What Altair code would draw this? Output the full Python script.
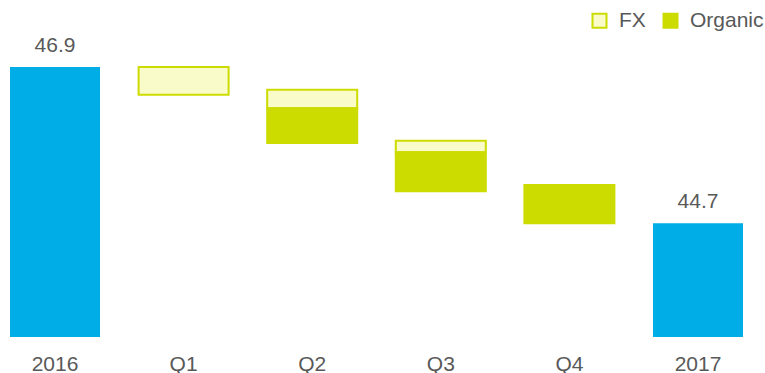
import altair as alt
import pandas as pd

categories = ["2016", "Q1", "Q2", "Q3", "Q4", "2017"]

total_cats = ["2016", "2017"]
total_vals = [46.9, 44.7]

chg_cats = ["Q1", "Q2", "Q2", "Q3", "Q3", "Q4"]
chg_types = ["FX", "FX", "Organic", "FX", "Organic", "Organic"]
chg_start = [46.90, 46.58, 46.32, 45.86, 45.70, 45.24]
chg_end = [46.51, 46.32, 45.83, 45.70, 45.15, 44.70]

axis_min = 43.1
axis_max = 47.42

BLUE = "#00ade6"
GREEN = "#cddc00"
PALE = "#f9fbc9"
GREY = "#595959"
FONT = "Liberation Sans"

totals = pd.DataFrame({
    "category": total_cats,
    "start": [axis_min] * len(total_cats),
    "end": total_vals,
    "label": [f"{v:.1f}" for v in total_vals],
})
changes = pd.DataFrame({
    "category": chg_cats,
    "type": chg_types,
    "start": chg_start,
    "end": chg_end,
})

x = alt.X(
    "category:N",
    sort=categories,
    scale=alt.Scale(domain=categories, paddingInner=0.3, paddingOuter=0),
    axis=alt.Axis(
        title=None, labelAngle=0, domain=False, ticks=False, grid=False,
        labelFontSize=21, labelColor=GREY, labelFont=FONT, labelPadding=16,
    ),
)
yscale = alt.Scale(domain=[axis_min, axis_max], zero=False, nice=False)

total_bars = alt.Chart(totals).mark_bar(color=BLUE).encode(
    x=x,
    y=alt.Y("start:Q", scale=yscale, axis=None),
    y2="end:Q",
)

change_bars = alt.Chart(changes).mark_bar(stroke=GREEN, strokeWidth=2).encode(
    x=x,
    y=alt.Y("start:Q", scale=yscale, axis=None),
    y2="end:Q",
    color=alt.Color(
        "type:N",
        scale=alt.Scale(domain=["FX", "Organic"], range=[PALE, GREEN]),
        legend=alt.Legend(
            title=None, orient="none", legendX=579, legendY=-20,
            direction="horizontal", symbolType="square", symbolSize=196,
            symbolStrokeColor=GREEN, symbolStrokeWidth=2, symbolOpacity=1,
            labelFontSize=21, labelColor=GREY, labelFont=FONT,
            labelOffset=9, columnPadding=13, padding=0, labelLimit=200,
        ),
    ),
)

labels = alt.Chart(totals).mark_text(
    baseline="alphabetic", dy=-15, fontSize=21, color=GREY, font=FONT
).encode(
    x=x,
    y=alt.Y("end:Q", scale=yscale, axis=None),
    text="label:N",
)

chart = alt.layer(total_bars, change_bars, labels).properties(
    width=733,
    height=307,
    autosize=alt.AutoSizeParams(type="none"),
    padding={"left": 10, "top": 30, "right": 22, "bottom": 36},
    background="white",
).configure_view(stroke=None)

chart.save("out.html", embed_options={"renderer": "svg", "actions": False})
